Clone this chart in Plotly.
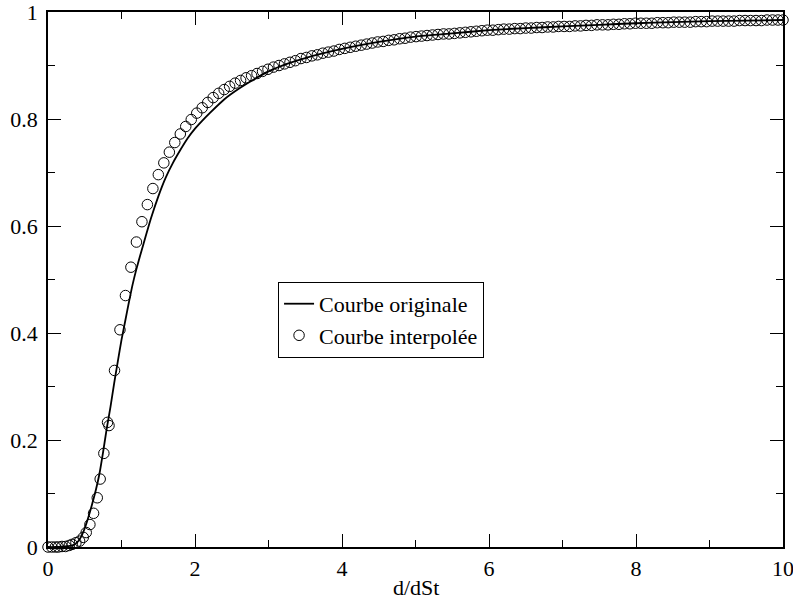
import plotly.graph_objects as go

# Original curve (solid line)
orig_x = [0.0, 0.1, 0.2, 0.3, 0.35, 0.4, 0.45, 0.5, 0.55, 0.6, 0.65, 0.7, 0.75, 0.8, 0.85,
          0.9, 0.95, 1.0, 1.05, 1.1, 1.15, 1.2, 1.25, 1.3, 1.4, 1.5, 1.6, 1.7, 1.8, 1.9,
          2.0, 2.1, 2.2, 2.4, 2.6, 2.8, 3.0, 3.25, 3.5, 4.0, 4.5, 5.0, 5.5, 6.0, 6.5, 7.0,
          7.5, 8.0, 8.5, 9.0, 9.5, 10.0]
orig_y = [0.0, 0.0, 0.001, 0.002, 0.004, 0.009, 0.019, 0.035, 0.056, 0.080, 0.106, 0.137,
          0.178, 0.222, 0.262, 0.306, 0.347, 0.387, 0.422, 0.457, 0.490, 0.518, 0.543,
          0.567, 0.614, 0.655, 0.690, 0.718, 0.742, 0.764, 0.782, 0.797, 0.811, 0.837,
          0.857, 0.874, 0.889, 0.903, 0.914, 0.931, 0.944, 0.954, 0.960, 0.966, 0.970,
          0.973, 0.976, 0.979, 0.981, 0.983, 0.984, 0.985]

# Interpolated curve (open circles)
interp_x = [0.00, 0.05, 0.10, 0.14, 0.19, 0.24, 0.29, 0.33, 0.38, 0.43, 0.48, 0.52, 0.57,
            0.62, 0.67, 0.71, 0.76, 0.81,
            0.830, 0.905, 0.979, 1.054, 1.128, 1.203, 1.278, 1.352, 1.427, 1.501, 1.576,
            1.651, 1.725, 1.800, 1.874, 1.949, 2.024, 2.098, 2.173, 2.247, 2.322, 2.397,
            2.471, 2.546, 2.620, 2.695, 2.770, 2.844, 2.919, 2.993, 3.068, 3.143, 3.217,
            3.292, 3.366, 3.441, 3.516, 3.590, 3.665, 3.739, 3.814, 3.889, 3.963, 4.038,
            4.112, 4.187, 4.262, 4.336, 4.411, 4.485, 4.560, 4.635, 4.709, 4.784, 4.858,
            4.933, 5.008, 5.082, 5.157, 5.231, 5.306, 5.381, 5.455, 5.530, 5.604, 5.679,
            5.754, 5.828, 5.903, 5.977, 6.052, 6.127, 6.201, 6.276, 6.350, 6.425, 6.500,
            6.574, 6.649, 6.723, 6.798, 6.873, 6.947, 7.022, 7.096, 7.171, 7.246, 7.320,
            7.395, 7.469, 7.544, 7.619, 7.693, 7.768, 7.842, 7.917, 7.992, 8.066, 8.141,
            8.215, 8.290, 8.365, 8.439, 8.514, 8.588, 8.663, 8.738, 8.812, 8.887, 8.961,
            9.036, 9.111, 9.185, 9.260, 9.334, 9.409, 9.484, 9.558, 9.633, 9.707, 9.782,
            9.857, 9.931, 10.000]
interp_y = [0.000, 0.000, 0.000, 0.000, 0.001, 0.001, 0.003, 0.005, 0.008, 0.011, 0.018,
            0.027, 0.042, 0.063, 0.092, 0.127, 0.175, 0.233,
            0.227, 0.330, 0.406, 0.470, 0.523, 0.570, 0.608, 0.640, 0.670, 0.696, 0.718,
            0.738, 0.756, 0.772, 0.786, 0.799, 0.811, 0.821, 0.831, 0.840, 0.848, 0.855,
            0.861, 0.867, 0.872, 0.877, 0.881, 0.885, 0.889, 0.893, 0.897, 0.900, 0.903,
            0.906, 0.909, 0.913, 0.915, 0.918, 0.920, 0.923, 0.925, 0.927, 0.930, 0.932,
            0.934, 0.936, 0.938, 0.940, 0.942, 0.944, 0.945, 0.947, 0.948, 0.950, 0.951,
            0.953, 0.954, 0.955, 0.956, 0.957, 0.958, 0.959, 0.959, 0.960, 0.961, 0.962,
            0.963, 0.964, 0.965, 0.966, 0.966, 0.967, 0.968, 0.968, 0.969, 0.969, 0.970,
            0.970, 0.971, 0.971, 0.972, 0.972, 0.973, 0.973, 0.973, 0.974, 0.974, 0.975,
            0.975, 0.976, 0.976, 0.976, 0.977, 0.977, 0.978, 0.978, 0.979, 0.979, 0.979,
            0.979, 0.980, 0.980, 0.980, 0.981, 0.981, 0.981, 0.981, 0.982, 0.982, 0.982,
            0.983, 0.983, 0.983, 0.983, 0.983, 0.984, 0.984, 0.984, 0.984, 0.984, 0.985,
            0.985, 0.985, 0.985]

x_ticks = [0, 2, 4, 6, 8, 10]
x_tick_labels = ["0", "2", "4", "6", "8", "10"]
y_ticks = [0, 0.2, 0.4, 0.6, 0.8, 1]
y_tick_labels = ["0", "0.2", "0.4", "0.6", "0.8", "1"]
x_title = "d/dSt"

FONT = "Times New Roman, Liberation Serif, DejaVu Serif, serif"

fig = go.Figure()
fig.add_trace(go.Scatter(
    x=orig_x, y=orig_y, mode="lines", name="Courbe originale",
    line=dict(color="black", width=1.8, shape="spline", smoothing=0.6),
))
fig.add_trace(go.Scatter(
    x=interp_x, y=interp_y, mode="markers", name="Courbe interpolée",
    marker=dict(symbol="circle-open", size=10.5, color="black", line=dict(width=1, color="black")),
    cliponaxis=False,
))

axis_common = dict(
    showline=True, linecolor="black", linewidth=1.6, mirror="allticks",
    ticks="inside", ticklen=13, tickwidth=1, tickcolor="black",
    showgrid=False, zeroline=False, automargin=False,
    ticklabeloverflow="allow",
    tickfont=dict(family=FONT, size=22, color="black"),
)

fig.update_xaxes(
    range=[0, 10], tickvals=x_ticks, ticktext=x_tick_labels,
    minor=dict(ticks="inside", ticklen=7, tickwidth=1, tickcolor="black", dtick=1, showgrid=False),
    ticklabelstandoff=1,
    **axis_common,
)
fig.update_yaxes(
    range=[0, 1], tickvals=y_ticks, ticktext=y_tick_labels,
    minor=dict(ticks="inside", ticklen=7, tickwidth=1, tickcolor="black", dtick=0.1, showgrid=False),
    ticklabelstandoff=4,
    **axis_common,
)

fig.add_annotation(
    text=x_title, xref="paper", yref="paper", x=0.5, y=0, xanchor="center", yanchor="top",
    yshift=-26, showarrow=False, font=dict(family=FONT, size=22, color="black"),
)

fig.update_layout(
    width=793, height=601,
    margin=dict(l=48, r=10, t=12, b=54),
    paper_bgcolor="white", plot_bgcolor="white",
    font=dict(family=FONT, color="black"),
    showlegend=True,
    legend=dict(
        x=0.313, y=0.4955, xanchor="left", yanchor="top",
        bgcolor="white", bordercolor="black", borderwidth=1,
        font=dict(family=FONT, size=22, color="black"),
        tracegroupgap=0, itemwidth=30,
    ),
)

# remove the default 8px page margin so the figure sits at the window's origin
fig.write_html("out.html", config={"displayModeBar": False},
               post_script="document.body.style.margin='0';")
